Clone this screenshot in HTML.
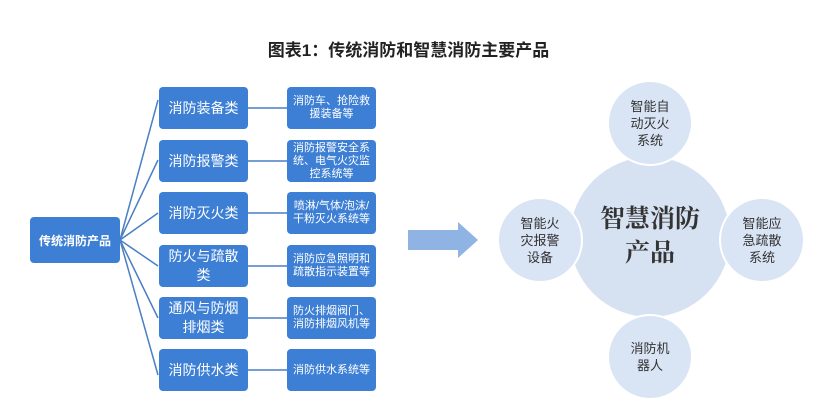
<!DOCTYPE html>
<html><head><meta charset="utf-8"><style>
body{margin:0;width:817px;height:411px;background:#fff;position:relative;overflow:hidden;font-family:"Liberation Sans","Noto Sans CJK SC",sans-serif}
.t{position:absolute;top:36px;left:0;width:817px;text-align:center;font-size:17px;font-weight:bold;color:#222}
.b{position:absolute;background:#3d7fd4;color:#fff;border-radius:4px;display:flex;align-items:center;justify-content:center;text-align:center;box-sizing:border-box}
.m{left:159px;width:89px;height:42px;font-size:14px;line-height:19px;padding:0 4px}
.r{left:287px;width:89px;height:42px;font-size:11px;line-height:13px;padding:0 3px}
.c{position:absolute;border-radius:50%;background:#d9e4f4;display:flex;align-items:center;justify-content:center;text-align:center;color:#333;box-sizing:border-box}
.s{width:86px;height:86px;font-size:13px;line-height:17px;border:2px solid #fff;padding:0 18px}
</style></head><body>
<div class="t">图表1：传统消防和智慧消防主要产品</div>
<svg width="817" height="411" style="position:absolute;left:0;top:0">
<g stroke="#4a7fc4" stroke-width="1.5" fill="none">
<line x1="120" y1="240" x2="158" y2="100"/><line x1="120" y1="240" x2="158" y2="160"/>
<line x1="120" y1="240" x2="158" y2="213"/><line x1="120" y1="240" x2="158" y2="266"/>
<line x1="120" y1="240" x2="158" y2="318"/><line x1="120" y1="240" x2="158" y2="375"/>
<line x1="248" y1="108" x2="287" y2="108"/><line x1="248" y1="161" x2="287" y2="161"/>
<line x1="248" y1="213" x2="287" y2="213"/><line x1="248" y1="266" x2="287" y2="266"/>
<line x1="248" y1="318" x2="287" y2="318"/><line x1="248" y1="370" x2="287" y2="370"/>
</g>
<polygon points="408,230 458,230 458,222 478,240 458,258 458,250 408,250" fill="#8fb4e3"/>
</svg>
<div class="b" style="left:30px;top:217px;width:90px;height:46px;font-size:12px;font-weight:bold">传统消防产品</div>
<div class="b m" style="top:87px">消防装备类</div>
<div class="b m" style="top:140px">消防报警类</div>
<div class="b m" style="top:192px">消防灭火类</div>
<div class="b m" style="top:245px">防火与疏散类</div>
<div class="b m" style="top:297px">通风与防烟排烟类</div>
<div class="b m" style="top:349px">消防供水类</div>
<div class="b r" style="top:87px">消防车、抢险救援装备等</div>
<div class="b r" style="top:140px">消防报警安全系统、电气火灾监控系统等</div>
<div class="b r" style="top:192px">喷淋/气体/泡沫/干粉灭火系统等</div>
<div class="b r" style="top:245px">消防应急照明和疏散指示装置等</div>
<div class="b r" style="top:297px">防火排烟阀门、消防排烟风机等</div>
<div class="b r" style="top:349px">消防供水系统等</div>
<div class="c" style="left:570px;top:157px;width:160px;height:160px;font-size:25px;line-height:34px;color:#333;padding:0 26px;background:#d6e1f1;font-family:'Liberation Serif','Noto Serif CJK SC',serif;font-weight:bold">智慧消防产品</div>
<div class="c s" style="left:607px;top:80px">智能自动灭火系统</div>
<div class="c s" style="left:497px;top:197px">智能火灾报警设备</div>
<div class="c s" style="left:719px;top:197px">智能应急疏散系统</div>
<div class="c s" style="left:607px;top:314px">消防机器人</div>
</body></html>
